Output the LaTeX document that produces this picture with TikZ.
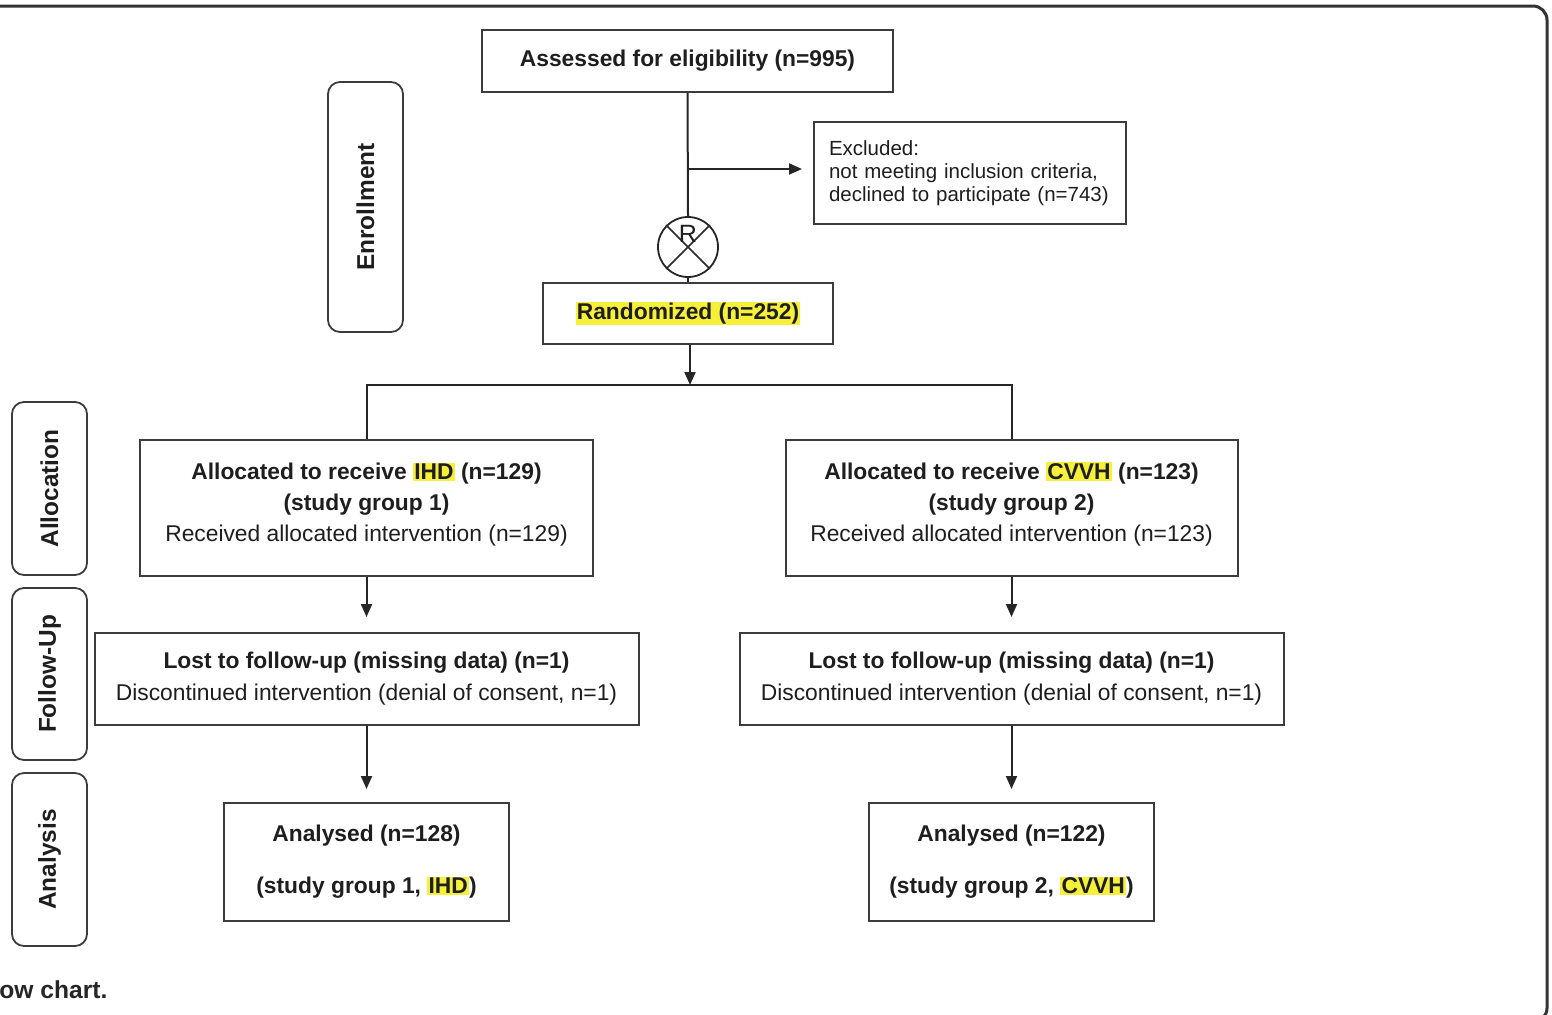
\documentclass[tikz,border=0pt]{standalone}
\usepackage{fontspec}
\setmainfont{Liberation Sans}
\usetikzlibrary{arrows.meta}
\definecolor{hlyellow}{RGB}{246,240,58}
\definecolor{boxline}{RGB}{60,60,60}
\definecolor{txt}{RGB}{30,30,30}
\newcommand{\hlt}[1]{{\setlength{\fboxsep}{0.6pt}\colorbox{hlyellow}{#1}}}

\begin{document}
\begin{tikzpicture}[x=0.5pt,y=-0.5pt]
\tikzstyle{every node}=[text=txt,font=\fontsize{11.4}{15.5}\selectfont];
\tikzstyle{box}=[draw=boxline,line width=1pt,fill=white,align=center,inner sep=0pt];
\tikzstyle{stage}=[draw=boxline,line width=0.9pt,rounded corners=6pt,rotate=90,inner sep=0pt,font=\fontsize{12.2}{14}\selectfont\bfseries];
\tikzstyle{conn}=[draw=black!85,line width=1pt];
\tikzstyle{arr}=[-{Triangle[length=6.5pt,width=5.5pt]}];

\useasboundingbox (0,0) rectangle (1552,1014);
\draw[black!80,line width=1.5pt,rounded corners=7pt] (-40,6) -- (1547,6) -- (1547,1022) -- (-40,1022);

\node[stage,minimum width=125pt,minimum height=37.5pt] (enrol) at (365.5,207) {Enrollment};
\node[stage,minimum width=86.5pt,minimum height=37.5pt] (allocs) at (49.5,488.5) {Allocation};
\node[stage,minimum width=86pt,minimum height=37.5pt] (fups) at (49.5,674) {Follow-Up};
\node[stage,minimum width=86.5pt,minimum height=37.5pt] (anas) at (49.5,859.5) {Analysis};

\node[box,minimum width=205.5pt,minimum height=31pt] (assess) at (687.5,61) {\textbf{Assessed for eligibility (n=995)}};
\node[box,minimum width=156pt,minimum height=51pt,align=left,text width=141pt,font=\fontsize{10.25}{11.5}\selectfont] (excl) at (970,173) {Excluded:\\not meeting inclusion criteria,\\declined to participate (n=743)};
\node[draw=black!85,line width=0.9pt,circle,minimum size=30pt,inner sep=0pt] (rnd) at (688,247) {};
\draw[conn,line width=0.8pt] (rnd.north west) -- (rnd.south east) (rnd.north east) -- (rnd.south west);
\node[font=\fontsize{12.5}{12.5}\selectfont] (rlet) at (688,234) {R};
\node[box,minimum width=145pt,minimum height=30.5pt] (rand) at (688,313.5) {\textbf{\hlt{Randomized (n=252)}}};

\node[box,minimum width=226.5pt,minimum height=68pt] (alloc1) at (366.5,508) {\textbf{Allocated to receive \hlt{IHD} (n=129)}\\\textbf{(study group 1)}\\Received allocated intervention (n=129)\\[-9.5pt]\mbox{}};
\node[box,minimum width=226pt,minimum height=68pt] (alloc2) at (1011.5,508) {\textbf{Allocated to receive \hlt{CVVH} (n=123)}\\\textbf{(study group 2)}\\Received allocated intervention (n=123)\\[-9.5pt]\mbox{}};
\node[box,minimum width=272pt,minimum height=46pt,font=\fontsize{11.4}{16}\selectfont] (fup1) at (366.5,679) {\textbf{Lost to follow-up (missing data) (n=1)}\\Discontinued intervention (denial of consent, n=1)};
\node[box,minimum width=272pt,minimum height=46pt,font=\fontsize{11.4}{16}\selectfont] (fup2) at (1011.5,679) {\textbf{Lost to follow-up (missing data) (n=1)}\\Discontinued intervention (denial of consent, n=1)};
\node[box,minimum width=142.5pt,minimum height=59pt] (ana1) at (366.5,862) {\textbf{Analysed (n=128)}\\[10.5pt]\textbf{(study group 1, \hlt{IHD})}};
\node[box,minimum width=142.5pt,minimum height=59pt] (ana2) at (1011.5,862) {\textbf{Analysed (n=122)}\\[10.5pt]\textbf{(study group 2, \hlt{CVVH})}};

\coordinate (exclbr) at (687.5,169);
\coordinate (split) at (690,385);
\draw[conn] (assess.south) -- (rnd.north);
\draw[conn] (rnd.south) -- (rand.north);
\draw[conn,arr,shorten >=5.5pt] (exclbr) -- (exclbr -| excl.west);
\draw[conn,arr] (split |- rand.south) -- (split);
\draw[conn] (alloc1.north) |- (split) -| (alloc2.north);
\draw[conn,arr,shorten >=7.5pt] (alloc1.south) -- (fup1.north);
\draw[conn,arr,shorten >=7.5pt] (alloc2.south) -- (fup2.north);
\draw[conn,arr,shorten >=6.5pt] (fup1.south) -- (ana1.north);
\draw[conn,arr,shorten >=6.5pt] (fup2.south) -- (ana2.north);

\node[anchor=base west,inner sep=0pt,text=black!85,font=\fontsize{12.3}{14}\selectfont\bfseries] (capt) at (-1,998) {ow chart.};
\end{tikzpicture}
\end{document}
